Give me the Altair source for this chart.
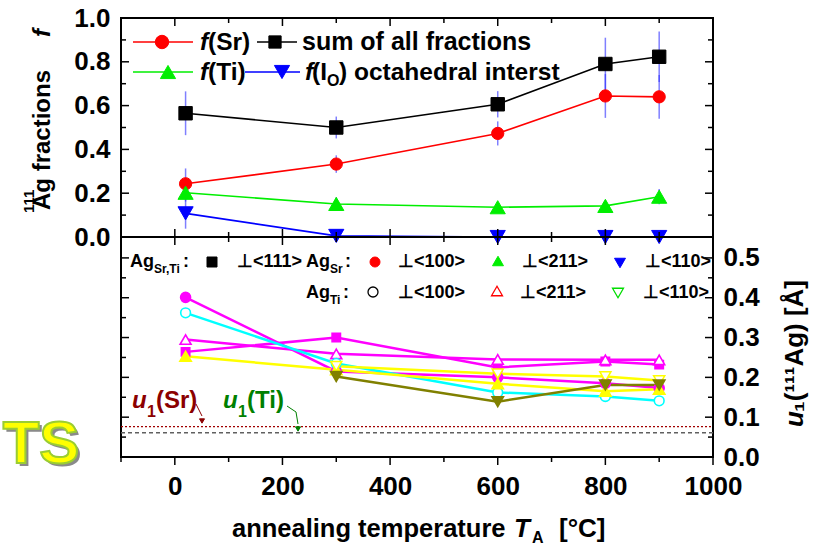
import altair as alt
import pandas as pd

# ---------------- data ----------------
T_TOP = [20, 300, 600, 800, 900]
F_SUM = [0.565, 0.500, 0.606, 0.790, 0.823]
F_SUM_ERR = [0.100, 0.050, 0.060, 0.120, 0.115]
F_SR = [0.243, 0.333, 0.473, 0.644, 0.640]
F_SR_ERR = [0.070, 0.040, 0.055, 0.100, 0.100]
F_TI = [0.202, 0.151, 0.136, 0.142, 0.184]
F_TI_ERR = [0.040, 0.030, 0.020, 0.020, 0.035]
F_IO = [0.108, 0.005, 0.000, 0.000, 0.000]
F_IO_ERR = [0.070, 0.010, 0.000, 0.000, 0.000]

T_U_A = [20, 300, 600, 800, 900]
T_U_B = [300, 600, 800, 900]
U_MAG_SQUARE = [0.264, 0.300, 0.225, 0.240, 0.232]
U_MAG_TRI_OPEN = [0.295, 0.259, 0.245, 0.244, 0.244]
U_MAG_CIRCLE = [0.401, 0.215, 0.200, 0.185, 0.173]
U_CYAN_CIRCLE_OPEN = [0.362, 0.235, 0.162, 0.152, 0.141]
U_YEL_TRI = [0.253, 0.219, 0.184, 0.165, 0.170]
U_YEL_TRIDOWN_OPEN = [0.228, 0.209, 0.202, 0.192]
U_OLIVE_TRIDOWN = [0.202, 0.139, 0.181, 0.181]
U1_SR_LEVEL = [0.0765]
U1_TI_LEVEL = [0.061]

X_LABELS = [0, 200, 400, 600, 800, 1000]
X_MAJOR_IN = [0, 200, 400, 600, 800]
X_MINOR = [100, 300, 500, 700, 900]
X_MINOR_OUT = [-100, 100, 300, 500, 700, 900]
F_LABELS = [0.0, 0.2, 0.4, 0.6, 0.8, 1.0]
F_MAJOR = [0.2, 0.4, 0.6, 0.8]
F_MINOR = [0.1, 0.3, 0.5, 0.7, 0.9]
U_LABELS = [0.0, 0.1, 0.2, 0.3, 0.4, 0.5]
U_MAJOR = [0.1, 0.2, 0.3, 0.4, 0.5]
U_MINOR = [0.05, 0.15, 0.25, 0.35, 0.45]

# ---------------- layout ----------------
W = 592
H_TOP = 219
H = 439
FONT = "Liberation Sans, Arial, sans-serif"

XS = alt.Scale(domain=[-100, 1000], nice=False, zero=False)
YT = alt.Scale(domain=[0, 1], range=[H_TOP, 0], nice=False, zero=False)
YB = alt.Scale(domain=[0, 0.5525], range=[H, H_TOP], nice=False, zero=False)

X_AXIS = alt.Axis(values=X_LABELS, format="d", orient="bottom", domain=False, ticks=False,
                  tickSize=0, grid=False, labelFont=FONT, labelFontSize=26,
                  labelFontWeight="bold", labelColor="black", labelPadding=16,
                  labelFlush=False, labelOverlap=False, title=None)
YT_AXIS = alt.Axis(values=F_LABELS, format=".1f", orient="left", domain=False, ticks=False,
                   tickSize=0, grid=False, labelFont=FONT, labelFontSize=26,
                   labelFontWeight="bold", labelColor="black", labelPadding=11,
                   labelFlush=False, labelOverlap=False, title=None)
YB_AXIS = alt.Axis(values=U_LABELS, format=".1f", orient="right", domain=False, ticks=False,
                   tickSize=0, grid=False, labelFont=FONT, labelFontSize=26,
                   labelFontWeight="bold", labelColor="black", labelPadding=10,
                   labelFlush=False, labelOverlap=False, title=None)

ANN = pd.DataFrame({"k": [0]})


def txt(s, x, y, size=24, color="black", style="normal", weight="bold",
        align="left", angle=0, font=FONT, **kw):
    return alt.Chart(ANN).mark_text(
        text=s, fontSize=size, color=color, fontStyle=style, fontWeight=weight,
        align=align, baseline="alphabetic", angle=angle, font=font, **kw
    ).encode(x=alt.value(x), y=alt.value(y))


def sym(shape, x, y, size, fill, stroke, sw=1.5):
    return alt.Chart(ANN).mark_point(
        shape=shape, size=size, filled=True, fill=fill, stroke=stroke,
        strokeWidth=sw, opacity=1
    ).encode(x=alt.value(x), y=alt.value(y))


def seg(x0, y0, x1, y1, color="black", sw=1.5, dash=None):
    kw = dict(color=color, strokeWidth=sw)
    if dash:
        kw["strokeDash"] = dash
    return alt.Chart(ANN).mark_rule(**kw).encode(
        x=alt.value(x0), y=alt.value(y0), x2=alt.value(x1), y2=alt.value(y1))


def series(T, Y, yscale, yaxis, color, shape, size, fill, stroke, lw, pw):
    df = pd.DataFrame({"T": T, "v": Y})
    base = alt.Chart(df).encode(
        x=alt.X("T:Q", scale=XS, axis=X_AXIS),
        y=alt.Y("v:Q", scale=yscale, axis=yaxis),
    )
    line = base.mark_line(color=color, strokeWidth=lw)
    pts = base.mark_point(shape=shape, size=size, filled=True, fill=fill,
                          stroke=stroke, strokeWidth=pw, opacity=1)
    return line, pts


def yticks(values, yscale, yaxis, length):
    df = pd.DataFrame({"v": values})
    left = alt.Chart(df).mark_rule(color="black", strokeWidth=1.5).encode(
        y=alt.Y("v:Q", scale=yscale, axis=yaxis), x=alt.value(0), x2=alt.value(length))
    right = alt.Chart(df).mark_rule(color="black", strokeWidth=1.5).encode(
        y=alt.Y("v:Q", scale=yscale, axis=yaxis), x=alt.value(W - length), x2=alt.value(W))
    return [left, right]


def xticks(values, y0, y1):
    df = pd.DataFrame({"v": values})
    return alt.Chart(df).mark_rule(color="black", strokeWidth=1.5).encode(
        x=alt.X("v:Q", scale=XS, axis=X_AXIS), y=alt.value(y0), y2=alt.value(y1))


# ---------------- top panel (fractions) ----------------
RED, BLACK, GREEN, BLUE = "#ff0000", "#000000", "#00ee00", "#0000ff"
top_specs = [
    (F_SUM, BLACK, "square", 180),
    (F_SR, RED, "circle", 150),
    (F_TI, GREEN, "triangle-up", 230),
    (F_IO, BLUE, "triangle-down", 230),
]
top_lines, top_pts = [], []
for vals, col, shp, sz in top_specs:
    ln, pt = series(T_TOP, vals, YT, YT_AXIS, col, shp, sz, col, col, 1.6, 1)
    top_lines.append(ln)
    top_pts.append(pt)

err_T, err_lo, err_hi = [], [], []
for vals, errs in [(F_SUM, F_SUM_ERR), (F_SR, F_SR_ERR), (F_TI, F_TI_ERR), (F_IO, F_IO_ERR)]:
    for t, v, e in zip(T_TOP, vals, errs):
        if e > 0:
            err_T.append(t)
            err_lo.append(v - e)
            err_hi.append(v + e)
err_df = pd.DataFrame({"T": err_T, "lo": err_lo, "hi": err_hi})
err = alt.Chart(err_df).mark_rule(color="#2a2aff", strokeWidth=1.5, opacity=0.6).encode(
    x=alt.X("T:Q", scale=XS, axis=X_AXIS),
    y=alt.Y("lo:Q", scale=YT, axis=YT_AXIS),
    y2="hi:Q",
)

top = alt.layer(*top_lines, err, *top_pts,
                *yticks(F_MAJOR, YT, YT_AXIS, 8), *yticks(F_MINOR, YT, YT_AXIS, 5))

# ---------------- bottom panel (u1) ----------------
MAG, CYAN, YEL, OLIVE = "#ff00ff", "#00ffff", "#ffff00", "#808000"
bot_specs = [
    (T_U_A, U_MAG_SQUARE, MAG, "square", 70, MAG, MAG),
    (T_U_A, U_MAG_TRI_OPEN, MAG, "triangle-up", 120, "white", MAG),
    (T_U_A, U_MAG_CIRCLE, MAG, "circle", 100, MAG, MAG),
    (T_U_A, U_CYAN_CIRCLE_OPEN, CYAN, "circle", 95, "white", CYAN),
    (T_U_A, U_YEL_TRI, YEL, "triangle-up", 130, YEL, YEL),
    (T_U_B, U_YEL_TRIDOWN_OPEN, YEL, "triangle-down", 120, "white", YEL),
    (T_U_B, U_OLIVE_TRIDOWN, OLIVE, "triangle-down", 130, OLIVE, OLIVE),
]
bot_lines, bot_pts = [], []
for T, vals, col, shp, sz, fl, st in bot_specs:
    ln, pt = series(T, vals, YB, YB_AXIS, col, shp, sz, fl, st, 2.5, 1.6)
    bot_lines.append(ln)
    bot_pts.append(pt)

ref_sr = alt.Chart(pd.DataFrame({"v": U1_SR_LEVEL})).mark_rule(
    color="#a00000", strokeWidth=1.2, strokeDash=[2, 2]).encode(
    y=alt.Y("v:Q", scale=YB, axis=YB_AXIS), x=alt.value(0), x2=alt.value(W))
ref_ti = alt.Chart(pd.DataFrame({"v": U1_TI_LEVEL})).mark_rule(
    color="#606060", strokeWidth=1.5, strokeDash=[4, 3]).encode(
    y=alt.Y("v:Q", scale=YB, axis=YB_AXIS), x=alt.value(0), x2=alt.value(W))

bottom = alt.layer(ref_sr, ref_ti, *bot_lines, *bot_pts,
                   *yticks(U_MAJOR, YB, YB_AXIS, 8), *yticks(U_MINOR, YB, YB_AXIS, 5))

# ---------------- frame ticks / divider ----------------
frame = [
    seg(0, H_TOP, W, H_TOP, sw=2),
    xticks(X_MAJOR_IN, 0, 8), xticks(X_MINOR, 0, 5),
    xticks(X_MAJOR_IN, H_TOP - 8, H_TOP + 8), xticks(X_MINOR, H_TOP - 5, H_TOP + 5),
    xticks(X_LABELS, H, H + 8), xticks(X_MINOR_OUT, H, H + 5),
]

# ---------------- legends / annotations ----------------
DR, DG = "#8b0000", "#008000"
ann = [
    # top legend
    seg(12, 24, 72, 24, RED, 1.6), sym("circle", 41, 24, 180, RED, RED, 1),
    txt("f", 79, 32, size=24.5, style="italic"), txt("(Sr)", 87, 32, size=24.5),
    seg(136, 24, 176, 24, BLACK, 1.6), sym("square", 154, 24, 150, BLACK, BLACK, 1),
    txt("sum of all fractions", 181, 32, size=25),
    seg(12, 54, 72, 54, GREEN, 1.6), sym("triangle-up", 47, 54, 230, GREEN, GREEN, 1),
    txt("f", 79, 62, size=24.5, style="italic"), txt("(Ti)", 87, 62, size=24.5),
    seg(124, 54, 179, 54, BLUE, 1.6), sym("triangle-down", 161, 54, 230, BLUE, BLUE, 1),
    txt("f", 184, 62, size=24.5, style="italic"), txt("(I", 191, 62, size=24.5),
    txt("O", 206, 68, size=16), txt(") octahedral interst", 218, 62, size=24.5),
    # bottom legend
    txt("Ag", 9, 249, size=18), txt("Sr,Ti", 33, 255, size=12), txt(":", 62, 249, size=18),
    sym("square", 91, 244, 100, BLACK, BLACK, 1), txt("⊥<111>", 116, 249, size=18),
    txt("Ag", 185, 249, size=18), txt("Sr", 209, 255, size=12), txt(":", 224, 249, size=18),
    sym("circle", 254, 244, 100, RED, RED, 1), txt("⊥<100>", 277, 249, size=18),
    sym("triangle-up", 377, 243, 120, GREEN, GREEN, 1), txt("⊥<211>", 401, 249, size=18),
    sym("triangle-down", 499, 245, 120, BLUE, BLUE, 1), txt("⊥<110>", 524, 249, size=18),
    txt("Ag", 185, 280, size=18), txt("Ti", 209, 286, size=12), txt(":", 222, 280, size=18),
    sym("circle", 252, 274, 100, "white", BLACK, 1.3), txt("⊥<100>", 277, 280, size=18),
    sym("triangle-up", 376, 273, 120, "white", RED, 1.3), txt("⊥<211>", 399, 280, size=18),
    sym("triangle-down", 497, 275, 120, "white", "#00dd00", 1.3), txt("⊥<110>", 522, 280, size=18),
    # u1 annotations
    txt("u", 11, 390, color=DR, style="italic"), txt("1", 26, 399, size=16, color=DR),
    txt("(Sr)", 35, 390, color=DR),
    seg(75, 386, 81, 398, DR, 1), sym("triangle-down", 81, 403, 25, DR, DR, 1),
    txt("u", 102, 390, color=DG, style="italic"), txt("1", 117, 399, size=16, color=DG),
    txt("(Ti)", 126, 390, color=DG),
    seg(166, 388, 175, 394, DG, 1), seg(175, 394, 177, 406, DG, 1),
    sym("triangle-down", 177, 411, 25, DG, DG, 1),
    # axis titles
    txt("111", -87, 195, size=15, angle=270),
    txt("Ag fractions", -71, 192, size=24, angle=270),
    txt("f", -71, 19, size=24, style="italic", angle=270),
    txt("u", 682, 409, size=26, style="italic", angle=270),
    txt("₁(¹¹¹Ag) [Å]", 682, 394, size=26, angle=270),
    txt("annealing temperature", 111, 519, size=25.5),
    txt("T", 393, 519, size=26, style="italic"),
    txt("A", 411, 525, size=16),
    txt("[°C]", 438, 519, size=26),
    # logo remnant
    txt("TS", -77, 448, size=60, color="#8a8a8a", align="center"),
    txt("TS", -80, 445, size=60, color="#ffff00", stroke="#9acd32", strokeWidth=2,
        align="center"),
]

chart = alt.layer(top, bottom, *frame, *ann).resolve_scale(
    y="independent"
).resolve_axis(
    y="independent"
).properties(
    width=W, height=H,
    autosize=alt.AutoSizeParams(type="none"),
    padding={"left": 121, "top": 18, "right": 110, "bottom": 92},
    background="white",
).configure_view(stroke="black", strokeWidth=2)

chart.save("out.html", embed_options={"renderer": "svg", "actions": False})
